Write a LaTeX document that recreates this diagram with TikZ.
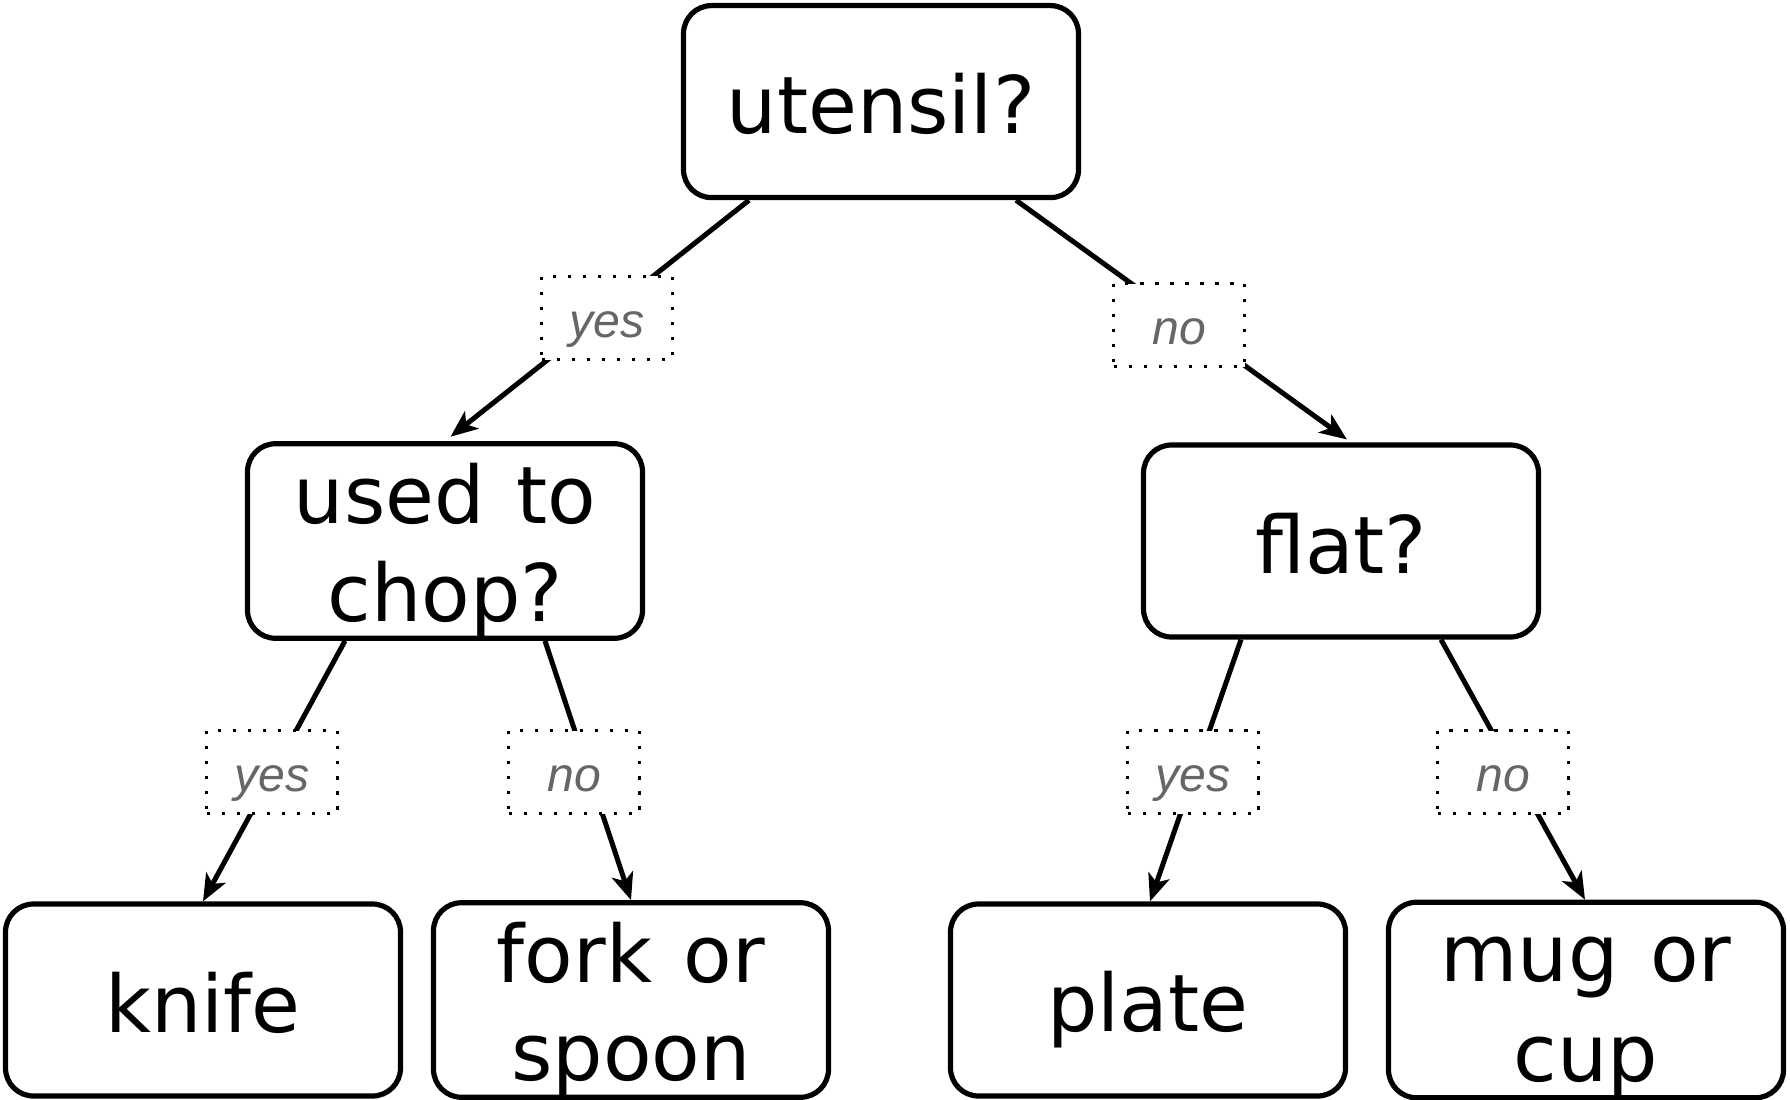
\documentclass[tikz,border=0pt]{standalone}
\usepackage{fontspec}
\setmainfont{DejaVu Sans}[WordSpace=1.25]
\newfontfamily\lblfont{Liberation Sans}
\usetikzlibrary{math,arrows.meta}
\definecolor{lblgray}{HTML}{666666}
\newcommand{\boxstrut}{\rule[-0.155cm]{0pt}{0.95cm}}

\begin{document}
\begin{tikzpicture}[
    box/.style={draw, line width=0.052cm, rounded corners=0.28cm, minimum width=3.95cm, minimum height=1.92cm, align=center, inner sep=0pt, font=\fontsize{22.6}{27}\selectfont},
    ans/.style={draw, fill=white, line width=0.033cm, dash pattern=on 0.033cm off 0.117cm, minimum width=1.31cm, minimum height=0.83cm, inner sep=0pt, text height=0.5cm, text depth=0.12cm, text=lblgray, font=\lblfont\itshape\fontsize{13.7}{16}\selectfont},
    edge/.style={line width=0.05cm, -{Stealth[length=0.27cm,width=0.22cm,inset=0.07cm]}}
    ]
            \tikzmath{\rowA = -1.016; \rowB = -5.41; \rowC = -10.0; \dx = 1.0; \lrow = -7.72;}
            \useasboundingbox (0,0) rectangle (17.9,-11);

            \node[box] (U) at (8.81, \rowA) {\boxstrut utensil?};
            \node[box] (C) at (4.45, \rowB) {\boxstrut used to\\\boxstrut chop?};
            \node[box] (F) at (13.41, \rowB) {\boxstrut flat?};

            \node[box] (K) at (2.03, \rowC) {\boxstrut knife};
            \node[box] (S) at (6.31, \rowC) {\boxstrut fork or\\\boxstrut spoon};
            \node[box] (P) at (11.48, \rowC) {\boxstrut plate};
            \node[box] (M) at (15.86, \rowC) {\boxstrut mug or\\\boxstrut cup};

            \draw[edge, shorten >=0.07cm] ([xshift=-1.32cm]U.south)--(C.north);
            \draw[edge, shorten >=0.05cm] ([xshift=1.35cm]U.south)--([xshift=0.1cm]F.north);

            \draw[edge] ([xshift=-\dx cm]C.south)--(K.north);
            \draw[edge] ([xshift=\dx cm]C.south)--(S.north);

            \draw[edge] ([xshift=-\dx cm]F.south)--([xshift=0.02cm]P.north);
            \draw[edge] ([xshift=\dx cm]F.south)--([xshift=-0.01cm]M.north);

            % answers sit over the connectors
            \node[ans] (UY) at (6.07, -3.18) {yes};
            \node[ans] (UN) at (11.79, -3.25) {no};
            \node[ans] (CY) at (2.72, \lrow) {yes};
            \node[ans] (CN) at (5.74, \lrow) {no};
            \node[ans] (FY) at (11.93, \lrow) {yes};
            \node[ans] (FN) at (15.03, \lrow) {no};
        \end{tikzpicture}
\end{document}
